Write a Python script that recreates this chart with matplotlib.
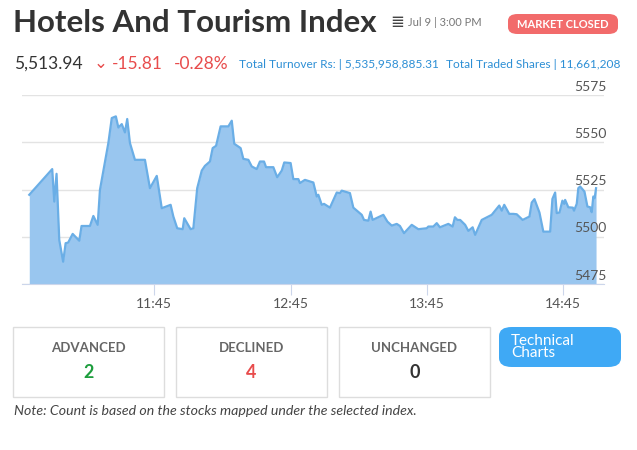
import matplotlib
matplotlib.use("Agg")
import matplotlib.pyplot as plt
from matplotlib.patches import FancyBboxPatch, Rectangle

plt.rcParams['font.family'] = ['Lato', 'DejaVu Sans']

# minutes since 10:00
times = [50.0, 60.1, 61.0, 62.0, 63.2, 64.9, 66.0, 67.1, 69.1, 72.0, 73.0, 76.7, 78.2, 80.1, 81.1, 84.8, 86.3, 88.1,
         89.2, 90.7, 92.1, 93.1, 94.3, 96.5, 100.9, 103.1, 106.1, 108.3, 112.2, 113.4, 115.1, 117.5, 118.2, 121.0,
         122.2, 123.9, 125.9, 127.3, 129.5, 130.7, 132.2, 134.2, 137.6, 139.1, 140.2, 143.0, 144.2, 146.4, 147.9,
         150.1, 151.5, 153.3, 154.2, 157.4, 159.1, 161.1, 162.2, 165.0, 166.2, 168.4, 169.1, 171.3, 175.0, 176.5,
         177.2, 178.7, 179.7, 182.3, 185.3, 186.7, 187.5, 191.1, 192.6, 196.3, 197.3, 199.2, 200.2, 201.1, 205.8,
         207.6, 209.5, 211.7, 213.1, 214.9, 218.3, 221.2, 224.9, 225.6, 227.8, 229.3, 230.7, 234.4, 236.3, 237.3,
         238.4, 239.6, 241.8, 243.2, 245.1, 246.2, 249.1, 253.5, 256.8, 257.9, 259.0, 261.2, 263.0, 264.5, 267.1,
         270.1, 271.1, 272.3, 274.5, 276.2, 279.2, 280.2, 281.4, 282.1, 283.3, 284.6, 285.4, 285.8, 287.2, 289.2,
         289.7, 290.9, 291.6, 292.4, 294.3, 295.6, 296.8, 297.5, 298.2, 298.8, 299.4]
values = [5522.2, 5535.8, 5518.6, 5533.3, 5498.3, 5486.8, 5496.6, 5496.9, 5501.5, 5497.9, 5505.7, 5505.7, 5511.0,
          5506.3, 5524.8, 5549.6, 5562.8, 5563.7, 5557.8, 5559.6, 5555.2, 5562.3, 5549.6, 5540.7, 5540.7, 5525.7,
          5532.2, 5515.1, 5516.9, 5510.7, 5504.5, 5504.0, 5509.8, 5504.0, 5504.5, 5525.7, 5535.0, 5537.5, 5539.8,
          5546.9, 5548.1, 5558.4, 5558.4, 5561.4, 5549.2, 5546.9, 5541.2, 5540.7, 5537.2, 5535.8, 5539.8, 5539.8,
          5536.8, 5536.8, 5531.5, 5535.0, 5539.3, 5539.0, 5530.5, 5530.5, 5528.4, 5530.1, 5528.7, 5521.3, 5522.2,
          5516.9, 5517.4, 5515.4, 5523.4, 5523.1, 5524.4, 5523.1, 5515.4, 5511.6, 5508.9, 5508.5, 5513.3, 5508.9,
          5511.6, 5508.0, 5505.9, 5506.8, 5505.7, 5501.9, 5506.3, 5504.0, 5504.5, 5505.4, 5505.4, 5507.2, 5505.0,
          5506.8, 5505.4, 5510.3, 5508.9, 5508.9, 5506.3, 5503.1, 5505.0, 5501.0, 5508.9, 5511.6, 5516.5, 5513.8,
          5516.9, 5512.1, 5512.1, 5511.9, 5508.9, 5510.7, 5518.1, 5519.9, 5512.8, 5502.7, 5502.7, 5520.0, 5523.4,
          5512.5, 5512.8, 5519.1, 5517.4, 5519.5, 5515.6, 5515.4, 5513.8, 5517.4, 5525.7, 5526.6, 5523.9, 5516.0,
          5515.6, 5513.0, 5521.3, 5520.4, 5525.7]
xtick_pos = [105, 165, 225, 285]
xtick_labels = ["11:45", "12:45", "13:45", "14:45"]
ytick_vals = [5475, 5500, 5525, 5550, 5575]

W, H = 637, 450
fig = plt.figure(figsize=(W / 100, H / 100), dpi=100)

def P(x, y):
    return x / W, 1 - y / H

# chart
ax = fig.add_axes([22 / W, 1 - 284 / H, (604 - 22) / W, (284 - 95) / H])
ax.fill_between(times, values, 5475, color='#99c6ef', lw=0)
ax.plot(times, values, color='#6aaee6', lw=1.6)
ax.set_xlim(46.8, 302.9)
ax.set_ylim(5475, 5575)
for v in ytick_vals:
    ax.axhline(v, color='#e3e3e3', lw=1, zorder=0)
    ax.text(1.005, (v - 5475) / 100 + 0.012, str(v), transform=ax.transAxes, ha='right', va='bottom',
            fontsize=10, color='#555555')
for s in ['top', 'right', 'left']:
    ax.spines[s].set_visible(False)
ax.spines['bottom'].set_color('#ccd6eb')
ax.set_yticks([])
ax.set_xticks(xtick_pos)
ax.set_xticklabels(xtick_labels, fontsize=10, color='#555555')
ax.tick_params(axis='x', length=8, color='#ccd6eb', pad=2)

# header
fig.text(*P(13, 23), "Hotels And Tourism Index", fontsize=22.5, fontweight='bold', color='#333333', va='center')
fig.text(*P(390, 22), "≣", fontsize=12, color='#444444', va='center')
fig.text(*P(408, 23), "Jul 9 | 3:00 PM", fontsize=8, color='#777777', va='center')
fig.patches.append(FancyBboxPatch(P(508, 34), 110 / W, 20 / H, boxstyle="round,pad=0,rounding_size=0.015",
                                  transform=fig.transFigure, fc='#f26b6b', ec='none'))
fig.text(*P(563, 24), "MARKET CLOSED", fontsize=8, fontweight='bold', color='white', ha='center', va='center')

fig.text(*P(14, 64), "5,513.94", fontsize=12.5, color='#333333', va='center')
fig.text(*P(94, 63), "⌄", fontsize=12, color='#e84c4c', va='center')
fig.text(*P(112, 64), "-15.81", fontsize=12.5, color='#e84c4c', va='center')
fig.text(*P(174, 64), "-0.28%", fontsize=12.5, color='#e84c4c', va='center')
fig.text(*P(239, 64), "Total Turnover Rs: | 5,535,958,885.31", fontsize=8.6, color='#2d8fd5', va='center')
fig.text(*P(446, 64), "Total Traded Shares | 11,661,208", fontsize=8.6, color='#2d8fd5', va='center')

# stat boxes
boxes = [("ADVANCED", "2", '#1e9e3e', 13), ("DECLINED", "4", '#e84c4c', 176), ("UNCHANGED", "0", '#333333', 339)]
for label, num, col, x0 in boxes:
    fig.patches.append(Rectangle(P(x0, 397), 151 / W, 70 / H, transform=fig.transFigure,
                                 fc='white', ec='#dddddd', lw=1))
    fig.text(*P(x0 + 75.5, 348), label, fontsize=9.5, fontweight='bold', color='#666666', ha='center', va='center')
    fig.text(*P(x0 + 75.5, 373), num, fontsize=13, fontweight='bold', color=col, ha='center', va='center')
fig.patches.append(FancyBboxPatch(P(499, 367), 122 / W, 40 / H, boxstyle="round,pad=0,rounding_size=0.02",
                                  transform=fig.transFigure, fc='#3fa9f5', ec='none'))
fig.text(*P(511, 347), "Technical\nCharts", fontsize=11, color='white', va='center', linespacing=0.9)

fig.text(*P(14, 411), "Note: Count is based on the stocks mapped under the selected index.", fontsize=10.2,
         style='italic', color='#444444', va='center')

fig.savefig("out.png", dpi=100)
